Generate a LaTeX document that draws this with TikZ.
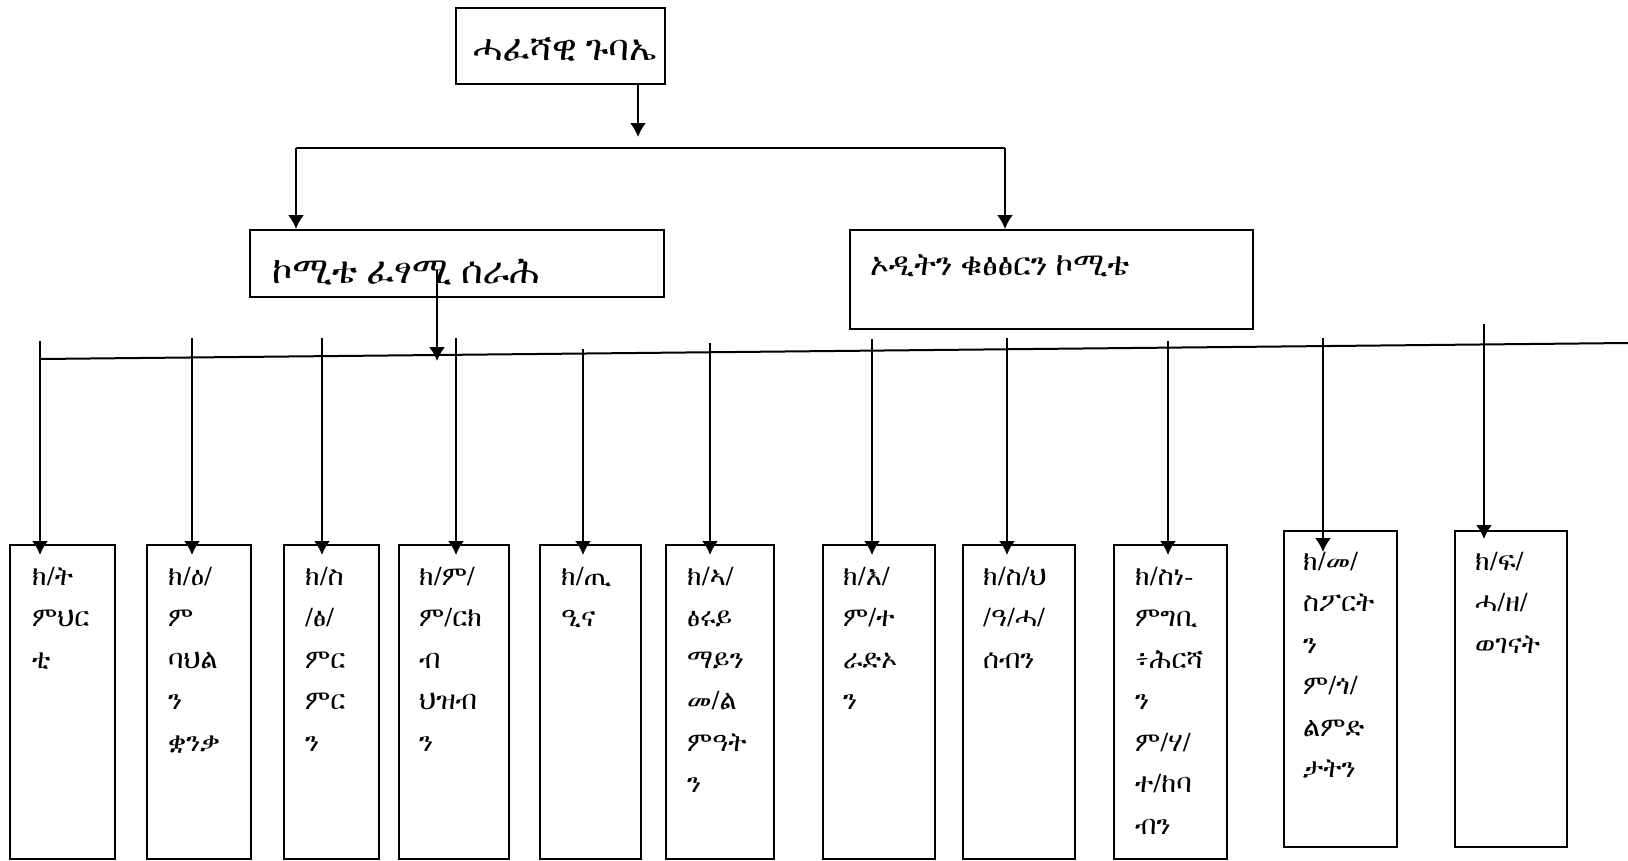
\documentclass[tikz,border=0pt]{standalone}
\usepackage{fontspec}
\IfFontExistsTF{FreeSerif}{\newfontfamily\ethfont{FreeSerif}}{%
  \IfFontExistsTF{FreeSerif.otf}{\newfontfamily\ethfont{FreeSerif.otf}}{%
    \newfontfamily\ethfont{Abyssinica SIL}}}
\usetikzlibrary{positioning, arrows.meta}

\tikzset{
  box/.style={draw, line width=2pt, inner sep=0pt, anchor=north west},
  cell/.style={box, minimum height=314pt},
  celltext/.style={inner sep=0pt, align=left,
    font={\ethfont\fontsize{27}{41.5}\selectfont}},
  arr/.style={line width=2pt, -{Latex[length=14pt,width=16pt]}},
  line/.style={line width=2pt}
}

\begin{document}
\begin{tikzpicture}[x=1pt, y=-1pt]
    \useasboundingbox (0,0) rectangle (1628,860);

    % General assembly
    \node [box, minimum width=209pt, minimum height=76pt] (GA) at (455,7) {};%
    \node [anchor=base west, inner sep=0pt, font={\ethfont\fontsize{36}{40}\selectfont}]
    (GAt) at (473,60) {ሓፈሻዊ ጉባኤ};%

    % Executive & Audit committees
    \node [box, minimum width=414pt, minimum height=67pt] (EC) at (249,229) {};%
    \node [anchor=base west, inner sep=0pt, font={\ethfont\fontsize{37}{42}\selectfont}]
    (ECt) at (272,283) {ኮሚቴ ፈፃሚ ሰራሕ};%
    \node [box, minimum width=403pt, minimum height=99pt] (AC) at (849,229) {};%
    \node [anchor=base west, inner sep=0pt, font={\ethfont\fontsize{32}{36}\selectfont}]
    (ACt) at (870,275) {ኦዲትን ቁፅፅርን ኮሚቴ};%

    % Sub committees
    \node [cell, minimum width=105pt] (B1) at (9,544) {};%
    \node [celltext, below right=12pt and 23pt of B1.north west] (B1t)
    {\strut ክ/ት\\ምህር\\ቲ};%
    \node [cell, minimum width=104pt] (B2) at (146,544) {};%
    \node [celltext, below right=12pt and 22pt of B2.north west] (B2t)
    {\strut ክ/ዕ/\\ም\\ባህል\\ን\\ቋንቃ};%
    \node [cell, minimum width=95pt] (B3) at (283,544) {};%
    \node [celltext, below right=12pt and 22pt of B3.north west] (B3t)
    {\strut ክ/ስ\\/ፅ/\\ምር\\ምር\\ን};%
    \node [cell, minimum width=110pt] (B4) at (398,544) {};%
    \node [celltext, below right=12pt and 21pt of B4.north west] (B4t)
    {\strut ክ/ም/\\ም/ርክ\\ብ\\ህዝብ\\ን};%
    \node [cell, minimum width=101pt] (B5) at (539,544) {};%
    \node [celltext, below right=12pt and 22pt of B5.north west] (B5t)
    {\strut ክ/ጢ\\ዒና};%
    \node [cell, minimum width=108pt] (B6) at (665,544) {};%
    \node [celltext, below right=12pt and 22pt of B6.north west] (B6t)
    {\strut ክ/ኣ/\\ፅሩይ\\ማይን\\መ/ል\\ምዓት\\ን};%
    \node [cell, minimum width=112pt] (B7) at (822,544) {};%
    \node [celltext, below right=12pt and 21pt of B7.north west] (B7t)
    {\strut ክ/እ/\\ም/ተ\\ራድኦ\\ን};%
    \node [cell, minimum width=112pt] (B8) at (962,544) {};%
    \node [celltext, below right=12pt and 21pt of B8.north west] (B8t)
    {\strut ክ/ስ/ህ\\/ዓ/ሓ/\\ሰብን};%
    \node [cell, minimum width=113pt] (B9) at (1113,544) {};%
    \node [celltext, below right=12pt and 22pt of B9.north west] (B9t)
    {\strut ክ/ስነ-\\ምግቢ\\፥ሕርሻ\\ን\\ም/ሃ/\\ተ/ከባ\\ብን};%
    \node [cell, minimum width=113pt, minimum height=316pt] (B10) at (1283,530) {};%
    \node [celltext, below right=11pt and 20pt of B10.north west] (B10t)
    {\strut ክ/መ/\\ስፖርት\\ን\\ም/ጎ/\\ልምድ\\ታትን};%
    \node [cell, minimum width=112pt, minimum height=316pt] (B11) at (1454,530) {};%
    \node [celltext, below right=11pt and 21pt of B11.north west] (B11t)
    {\strut ክ/ፍ/\\ሓ/ዘ/\\ወገናት};%

    % free ends
    \coordinate (g1) at (638,137);
    \coordinate (brl) at (296,148);
    \coordinate (brr) at (1005,148);
    \coordinate (e1) at (437,270);
    \coordinate (e2) at (437,361);
    \coordinate (hl) at (40,359);
    \coordinate (hr) at (1628,343);
    \coordinate (t1) at (40,341);
    \coordinate (t2) at (192,338);
    \coordinate (t3) at (322,338);
    \coordinate (t4) at (456,338);
    \coordinate (t5) at (583,349);
    \coordinate (t6) at (710,343);
    \coordinate (t7) at (872,339);
    \coordinate (t8) at (1007,338);
    \coordinate (t9) at (1168,341);
    \coordinate (t10) at (1323,338);
    \coordinate (t11) at (1484,324);

    % arrows
    \draw [arr] (GA.south -| g1) -- (g1);%
    \draw [line] (brl) -- (brr);%
    \draw [arr] (brl) -- (brl |- EC.north);%
    \draw [arr] (brr) -- (brr |- AC.north);%
    \draw [arr] (e1) -- (e2);%
    \draw [line] (hl) -- (hr);%
    \draw [arr, shorten >=-11pt] (t1) -- (t1 |- B1.north);%
    \draw [arr, shorten >=-11pt] (t2) -- (t2 |- B2.north);%
    \draw [arr, shorten >=-11pt] (t3) -- (t3 |- B3.north);%
    \draw [arr, shorten >=-11pt] (t4) -- (t4 |- B4.north);%
    \draw [arr, shorten >=-11pt] (t5) -- (t5 |- B5.north);%
    \draw [arr, shorten >=-11pt] (t6) -- (t6 |- B6.north);%
    \draw [arr, shorten >=-11pt] (t7) -- (t7 |- B7.north);%
    \draw [arr, shorten >=-11pt] (t8) -- (t8 |- B8.north);%
    \draw [arr, shorten >=-11pt] (t9) -- (t9 |- B9.north);%
    \draw [arr, shorten >=-22pt] (t10) -- (t10 |- B10.north);%
    \draw [arr, shorten >=-9pt] (t11) -- (t11 |- B11.north);
\end{tikzpicture}
\end{document}
